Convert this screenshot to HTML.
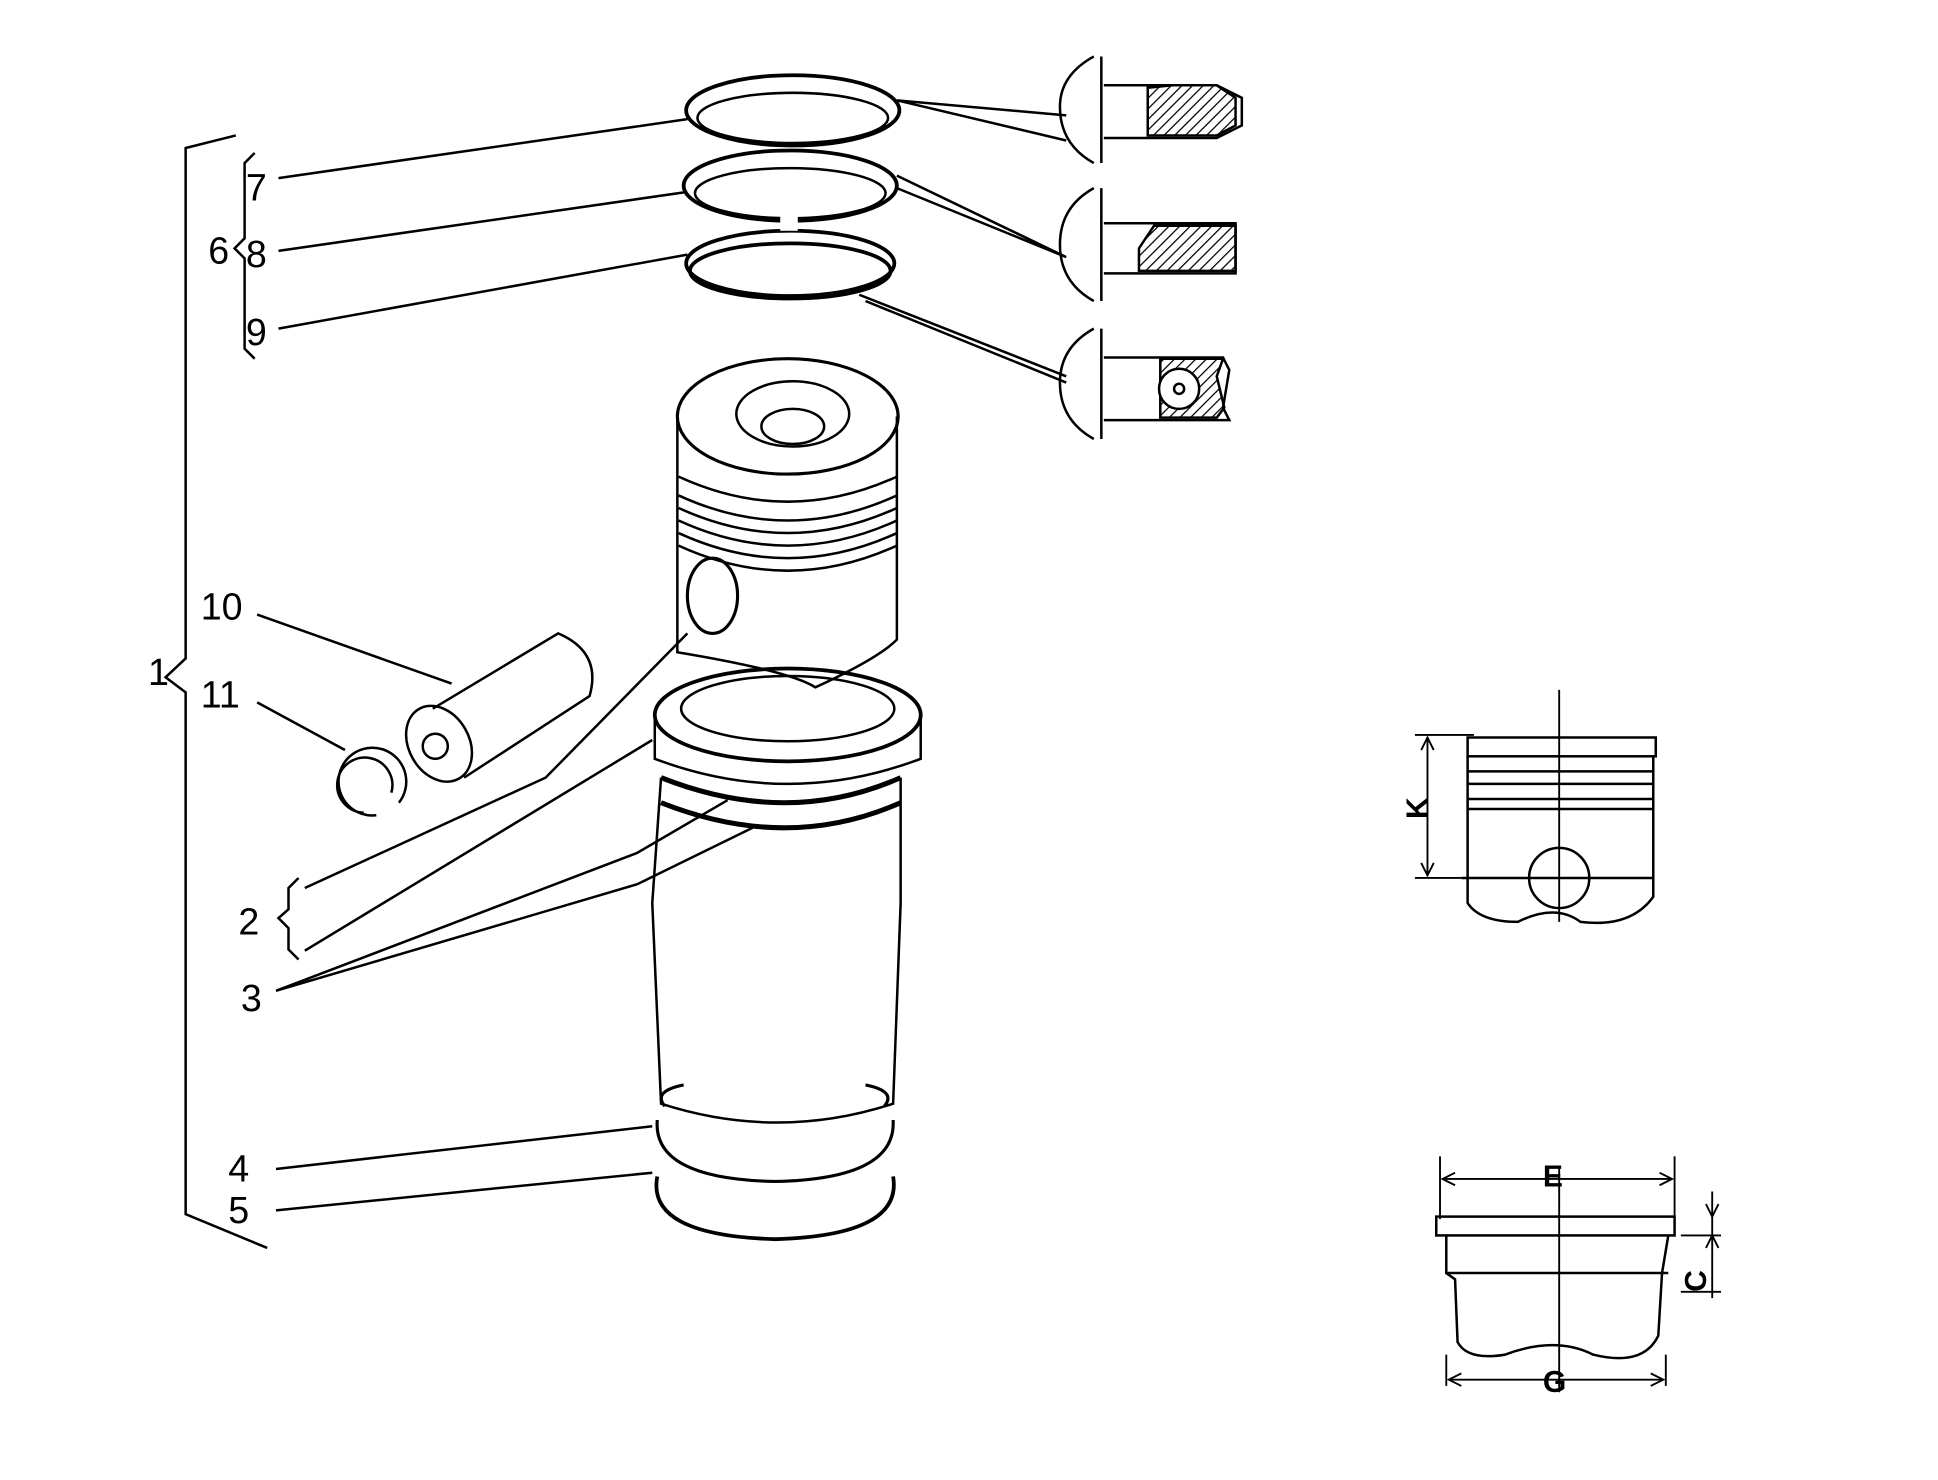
<!DOCTYPE html>
<html><head><meta charset="utf-8"><style>html,body{margin:0;padding:0;background:#fff}svg{display:block}</style></head><body>
<svg width="1938" height="1480" viewBox="0 0 1545 1180" preserveAspectRatio="none" xmlns="http://www.w3.org/2000/svg" font-family="Liberation Sans, sans-serif" fill="none" stroke="#000" stroke-width="2">
<rect x="0" y="0" width="1545" height="1180" fill="#fff" stroke="none"/>
<defs><pattern id="h" width="6" height="6" patternUnits="userSpaceOnUse" patternTransform="rotate(45)"><line x1="0" y1="0" x2="0" y2="6" stroke="#000" stroke-width="2"/></pattern></defs>
<g fill="#000" stroke="none" font-size="30">
<text x="196" y="160">7</text><text x="166" y="210">6</text><text x="196" y="213">8</text><text x="196" y="275">9</text>
<text x="160" y="494">10</text><text x="160" y="564">11</text><text x="118" y="546">1</text>
<text x="190" y="745">2</text><text x="192" y="806">3</text><text x="182" y="942">4</text><text x="182" y="975">5</text>
<text x="1115" y="650" font-weight="bold" font-size="24" transform="rotate(-90 1128 640)">K</text>
<text x="1230" y="946" font-weight="bold" font-size="24">E</text>
<text x="1230" y="1110" font-weight="bold" font-size="24">G</text>
<text x="1340" y="1030" font-weight="bold" font-size="24" transform="rotate(-90 1350 1020)">C</text>
</g>
<path d="M188 108 L148 118 L148 525 L132 540 L148 552 L148 968 L213 995"/>
<path d="M203 122 L195 130 L195 190 L187 198 L195 206 L195 278 L203 286"/>
<path d="M238 700 L230 708 L230 725 L222 732 L230 740 L230 757 L238 765"/>
<path d="M222 142 L548 95 M222 200 L548 153 M222 262 L548 203 M205 490 L360 545 M205 560 L275 598 M243 708 L435 620 L548 505 M243 758 L520 590 M220 790 L508 680 L580 638 M220 790 L508 705 L600 660 M220 932 L520 898 M220 965 L520 935"/>
<path d="M715 80 L850 92 M715 80 L850 112 M715 140 L850 205 M715 150 L850 205 M685 235 L850 300 M690 240 L850 305"/>
<ellipse cx="632" cy="88" rx="85" ry="28" stroke-width="3"/><ellipse cx="632" cy="94" rx="76" ry="20"/>
<ellipse cx="630" cy="148" rx="85" ry="28" stroke-width="3"/><ellipse cx="630" cy="154" rx="76" ry="20"/>
<ellipse cx="630" cy="210" rx="83" ry="26" stroke-width="3"/><ellipse cx="630" cy="216" rx="80" ry="22" stroke-width="3"/>
<rect x="622" y="170" width="14" height="14" fill="#fff" stroke="none"/>
<ellipse cx="628" cy="332" rx="88" ry="46" stroke-width="2.5"/>
<ellipse cx="632" cy="330" rx="45" ry="26"/><ellipse cx="632" cy="340" rx="25" ry="14"/>
<path d="M540 332 L540 520 Q630 535 650 548 Q700 525 715 510 L715 332"/>
<path d="M541 380 Q628 420 715 380 M541 395 Q628 435 715 395 M541 405 Q628 445 715 405 M541 415 Q628 455 715 415 M541 425 Q628 465 715 425 M541 435 Q628 475 715 435"/>
<ellipse cx="568" cy="475" rx="20" ry="30" stroke-width="2.5"/>
<ellipse cx="628" cy="570" rx="106" ry="37" stroke-width="3"/><ellipse cx="628" cy="565" rx="85" ry="26" stroke-width="2"/>
<path d="M522 570 L522 605 Q628 645 734 605 L734 570"/>
<path d="M527 620 Q628 660 718 620 M527 640 Q628 680 718 640" stroke-width="4"/>
<path d="M527 620 L520 720 L527 880 Q620 910 712 880 L718 720 L718 620"/>
<path d="M524 893 Q520 940 618 942 Q715 940 712 893 M530 882 Q520 870 545 865 M705 882 Q715 870 690 865" stroke-width="2.5"/>
<path d="M524 938 Q515 985 618 988 Q720 985 712 938" stroke-width="3"/>
<path d="M345 565 L445 505 Q480 520 470 555 L370 620"/>
<ellipse cx="350" cy="593" rx="24" ry="32" transform="rotate(-30 350 593)"/>
<circle cx="347" cy="595" r="10"/>
<path d="M300 650 A27 27 0 1 1 318 640 M290 648 A22 22 0 1 1 312 632"/>
<g>
<path d="M872 45 Q845 60 845 85 Q845 115 872 130 M878 45 L878 130"/>
<path d="M880 68 L970 68 L990 78 L990 100 L970 110 L880 110"/>
<path d="M915 70 L935 68 L970 68 L985 78 L985 100 L970 108 L915 108 Z" fill="url(#h)"/>
<path d="M872 150 Q845 165 845 195 Q845 225 872 240 M878 150 L878 240"/>
<path d="M880 178 L985 178 L985 218 L880 218"/>
<path d="M920 180 L985 180 L985 216 L908 216 L908 198 Z" fill="url(#h)"/>
<path d="M872 262 Q845 277 845 305 Q845 335 872 350 M878 262 L878 350"/>
<path d="M880 285 L975 285 L980 295 L975 325 L980 335 L880 335"/>
<path d="M925 286 L975 286 L970 300 L976 325 L970 333 L925 333 Z" fill="url(#h)"/>
<circle cx="940" cy="310" r="16" fill="#fff"/><circle cx="940" cy="310" r="4"/>
</g>
<path d="M1243 550 L1243 735" stroke-width="1.5"/>
<rect x="1170" y="588" width="150" height="15"/>
<path d="M1170 603 L1170 720 Q1180 735 1210 735 Q1240 720 1260 735 Q1300 740 1318 715 L1318 603"/>
<path d="M1170 615 L1318 615 M1170 625 L1318 625 M1170 637 L1318 637 M1170 645 L1318 645 M1165 700 L1318 700"/>
<circle cx="1243" cy="700" r="24"/>
<path d="M1128 586 L1175 586 M1128 700 L1165 700 M1138 588 L1138 698" stroke-width="1.5"/>
<path d="M1133 598 L1138 588 L1143 598 M1133 688 L1138 698 L1143 688" stroke-width="1.5"/>
<path d="M1148 922 L1148 972 M1335 922 L1335 972 M1150 940 L1333 940 M1153 1080 L1153 1105 M1328 1080 L1328 1105 M1155 1100 L1326 1100 M1243 930 L1243 1110" stroke-width="1.5"/>
<path d="M1160 935 L1150 940 L1160 945 M1323 935 L1333 940 L1323 945 M1165 1095 L1155 1100 L1165 1105 M1316 1095 L1326 1100 L1316 1105" stroke-width="1.5"/>
<rect x="1145" y="970" width="190" height="15"/>
<path d="M1153 985 L1153 1015 L1160 1020 L1162 1070 Q1170 1085 1200 1080 Q1240 1065 1270 1080 Q1310 1090 1322 1065 L1325 1015 L1330 985 M1153 1015 L1330 1015"/>
<path d="M1340 985 L1372 985 M1340 1030 L1372 1030 M1365 950 L1365 1035 M1360 960 L1365 970 L1370 960 M1360 995 L1365 985 L1370 995" stroke-width="1.5"/>
</svg>
</body></html>
